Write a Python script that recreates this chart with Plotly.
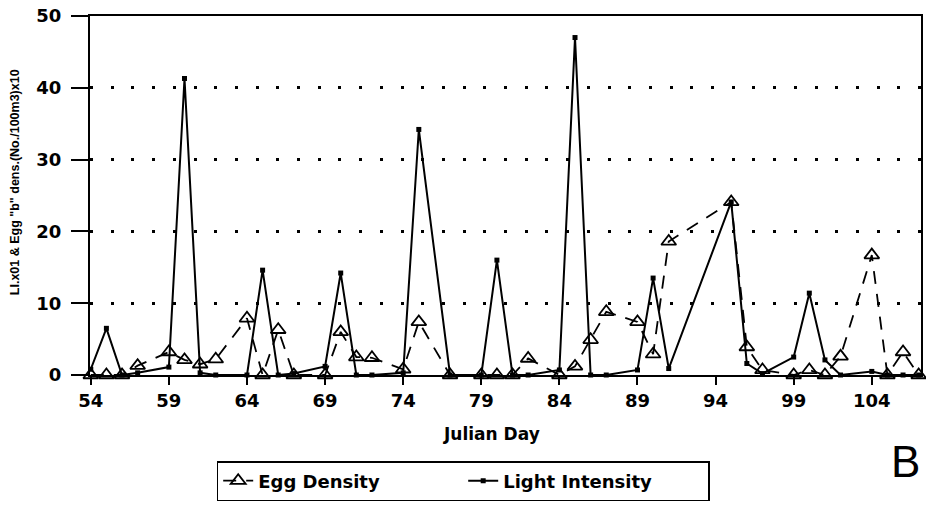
import plotly.graph_objects as go

# Sampling days (Julian day)
days = [54, 55, 56, 57, 59, 60, 61, 62, 64, 65, 66, 67, 69, 70, 71, 72, 74, 75,
        77, 79, 80, 81, 82, 84, 85, 86, 87, 89, 90, 91, 95, 96, 97, 99, 100,
        101, 102, 104, 105, 106, 107]

# Egg "b" density (No./100 m3) x10
egg_density = [0, 0, 0, 1.3, 3.2, 2.1, 1.5, 2.2, 7.9, 0, 6.3, 0, 0, 6.0, 2.5,
               2.4, 0.8, 7.4, 0, 0, 0, 0, 2.3, 0, 1.2, 4.9, 8.8, 7.4, 2.9,
               18.6, 24.1, 3.9, 0.7, 0, 0.7, 0, 2.6, 16.7, 0, 3.2, 0]

# Light intensity x0.1
light_intensity = [0.8, 6.5, 0, 0.3, 1.1, 41.3, 0.3, 0, 0, 14.6, 0, 0.2, 1.2,
                   14.2, 0, 0, 0.3, 34.2, 0, 0, 16.0, 0, 0, 0.7, 47.0, 0, 0,
                   0.7, 13.5, 0.9, 24.1, 1.6, 0.2, 2.5, 11.4, 2.1, 0, 0.5, 0,
                   0, 0]

x_ticks = [54, 59, 64, 69, 74, 79, 84, 89, 94, 99, 104]
y_ticks = [0, 10, 20, 30, 40, 50]

TICK_FONT = dict(family="DejaVu Sans", size=18, color="black", weight="bold")

fig = go.Figure()

fig.add_trace(go.Scatter(
    x=days, y=egg_density, name="Egg Density", mode="lines+markers",
    line=dict(color="black", width=1.8, dash="13px,10px"),
    marker=dict(symbol="triangle-up-open", size=13, color="black",
                line=dict(width=1.8, color="black")),
    cliponaxis=False,
))

fig.add_trace(go.Scatter(
    x=days, y=light_intensity, name="Light Intensity", mode="lines+markers",
    line=dict(color="black", width=2),
    marker=dict(symbol="square", size=5, color="black"),
    cliponaxis=False,
))

fig.update_layout(
    width=926, height=510,
    margin=dict(l=90, r=3, t=16, b=135),
    paper_bgcolor="white", plot_bgcolor="white",
    showlegend=True,
    legend=dict(
        orientation="h", x=(217 - 90) / 833, y=(375 - 461) / 359,
        xanchor="left", yanchor="top",
        bordercolor="black", borderwidth=1.5, bgcolor="white",
        font=dict(family="DejaVu Sans", size=18, color="black", weight="bold"),
        itemwidth=30, entrywidth=200,
    ),
    xaxis=dict(
        range=[53.95, 107.15], tickmode="array", tickvals=x_ticks,
        ticktext=[str(v) for v in x_ticks],
        showline=True, linecolor="black", linewidth=2, mirror=True,
        ticks="outside", ticklen=8, tickwidth=1.5, tickcolor="black",
        showgrid=False, zeroline=False, tickfont=TICK_FONT,
    ),
    yaxis=dict(
        range=[0, 50], tickmode="array", tickvals=y_ticks,
        ticktext=[str(v) for v in y_ticks],
        showline=True, linecolor="black", linewidth=2, mirror=True,
        ticks="outside", ticklen=17, tickwidth=2, tickcolor="black",
        showgrid=True, gridcolor="black", gridwidth=2.5,
        griddash="3px,17.7px", zeroline=False, tickfont=TICK_FONT,
        ticklabelstandoff=6,
    ),
    annotations=[
        dict(text="Julian Day", xref="paper", yref="paper",
             x=(492 - 90) / 833, y=(375 - 434) / 359,
             xanchor="center", yanchor="middle", showarrow=False,
             font=dict(family="DejaVu Sans", size=17, color="black",
                       weight="bold")),
        dict(text="LI.x01 & Egg \"b\" dens.(No./100m3)x10", xref="paper",
             yref="paper", x=(15 - 90) / 833, y=(375 - 182) / 359,
             xanchor="center", yanchor="middle", showarrow=False,
             textangle=-90,
             font=dict(family="Liberation Sans", size=12.5, color="black",
                       weight="bold")),
        dict(text="B", xref="paper", yref="paper",
             x=(907 - 90) / 833, y=(375 - 462) / 359,
             xanchor="center", yanchor="middle", showarrow=False,
             font=dict(family="Liberation Sans", size=44, color="black")),
    ],
)

fig.write_html("out.html")
